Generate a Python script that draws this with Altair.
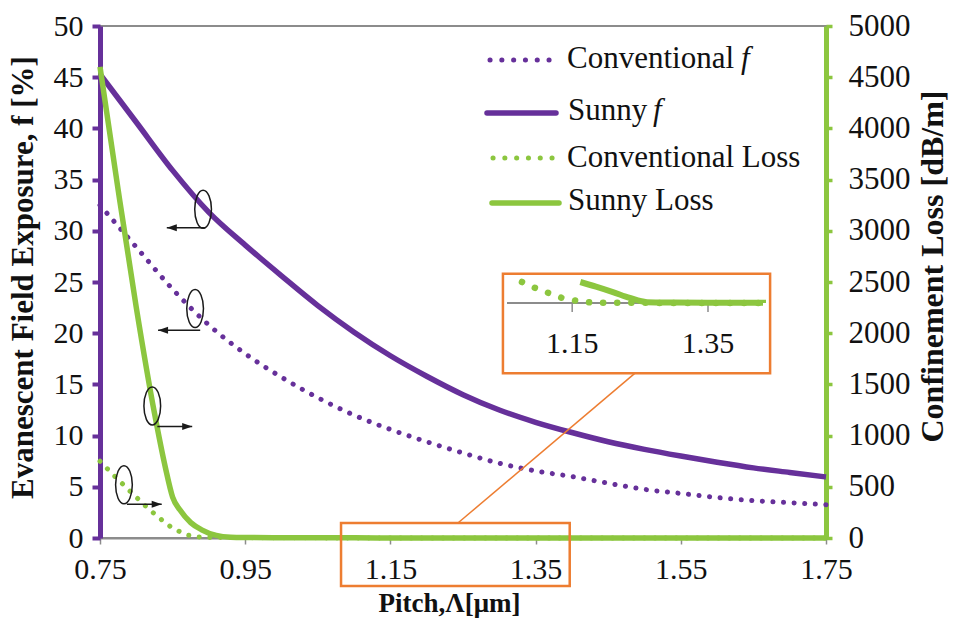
import altair as alt
import pandas as pd

# ---------------- data ----------------
f_pitch = [0.75, 0.80, 0.85, 0.90, 0.95, 1.00, 1.05, 1.10, 1.15, 1.20, 1.25,
           1.30, 1.35, 1.40, 1.45, 1.50, 1.55, 1.60, 1.65, 1.70, 1.75]
sunny_f = [45.3, 40.6, 35.9, 31.8, 28.6, 25.6, 22.7, 20.1, 17.8, 15.8, 14.0,
           12.5, 11.3, 10.3, 9.4, 8.65, 8.0, 7.4, 6.85, 6.4, 5.96]
conv_f = [32.5, 28.4, 24.3, 20.8, 18.0, 15.7, 13.7, 12.0, 10.6, 9.4, 8.3,
          7.3, 6.55, 6.0, 5.35, 4.75, 4.35, 3.95, 3.65, 3.45, 3.25]

sunny_loss_pitch = [0.75, 0.775, 0.80, 0.825, 0.84, 0.85, 0.86, 0.875, 0.89, 0.91,
                    0.93, 0.95, 1.00, 1.05, 1.10, 1.162, 1.185, 1.21, 1.235, 1.26,
                    1.30, 1.35, 1.40, 1.45, 1.50, 1.55, 1.60, 1.65, 1.70, 1.75]
sunny_loss = [4600, 3400, 2250, 1220, 690, 400, 275, 150, 80, 25,
              7, 4.5, 2.8, 2.0, 1.4, 1.0, 0.78, 0.52, 0.24, 0.04,
              0.02, 0.01, 0.01, 0.01, 0.0, 0.0, 0.0, 0.0, 0.0, 0.0]

conv_loss_pitch = [0.75, 0.77, 0.79, 0.81, 0.83, 0.85, 0.87, 0.885, 0.90, 0.95,
                   1.00, 1.04, 1.076, 1.096, 1.115, 1.135, 1.157, 1.179, 1.20, 1.25,
                   1.30, 1.40, 1.50, 1.60, 1.75]
conv_loss = [750, 605, 467, 330, 205, 95, 29, 10, 6, 3.5,
             2.2, 1.5, 1.0, 0.71, 0.48, 0.24, 0.1, 0.02, 0.01, 0.01,
             0.0, 0.0, 0.0, 0.0, 0.0]

x_ticks = [0.75, 0.95, 1.15, 1.35, 1.55, 1.75]
f_ticks = [0, 5, 10, 15, 20, 25, 30, 35, 40, 45, 50]
loss_ticks = [0, 500, 1000, 1500, 2000, 2500, 3000, 3500, 4000, 4500, 5000]
inset_ticks = [1.15, 1.35]

# annotation marks (ellipses + arrows), in data units of the left axis
ell_x = [0.892, 0.881, 0.822, 0.783]
ell_y = [32.1, 22.4, 12.9, 5.2]
arrow_x1 = [0.895, 0.888, 0.829, 0.787]
arrow_x2 = [0.842, 0.830, 0.877, 0.835]
arrow_y = [30.3, 20.3, 10.9, 3.3]
# zoom boxes and the connector
box_x1 = [1.082, 1.305]
box_x2 = [1.397, 1.673]
box_y1 = [-4.69, 16.1]
box_y2 = [1.46, 25.8]
conn_x1, conn_y1, conn_x2, conn_y2 = [1.243], [1.46], [1.487], [16.1]

# ---------------- styling ----------------
PURPLE = "#66309a"
GREEN = "#8cc63f"
ORANGE = "#ed7d31"
GRAY = "#8c8c8c"
TXT = "#111111"
SERIF = "Liberation Serif"
W, H = 726, 512

xs = alt.Scale(domain=[0.75, 1.75], nice=False, zero=False)
fs = alt.Scale(domain=[0, 50], nice=False, zero=False)
ls = alt.Scale(domain=[0, 5000], nice=False, zero=False)
ixs = alt.Scale(domain=[1.054, 1.431], range=[407, 663], clamp=True, nice=False, zero=False)
iys = alt.Scale(domain=[0, 1], range=[277, 256], nice=False, zero=False)

x_axis = alt.Axis(orient="bottom", values=x_ticks, format=".2f", grid=False,
                  labelFont=SERIF, labelFontSize=30, labelColor=TXT, labelPadding=10,
                  labelFlush=False, labelOverlap=False,
                  tickColor=GRAY, tickSize=6, tickWidth=1.5,
                  domainColor=GRAY, domainWidth=2,
                  title="Pitch,Λ[μm]", titleFont=SERIF, titleFontSize=27,
                  titleFontWeight="bold", titleColor=TXT, titleX=349, titleY=73,
                  titleAlign="center", titleBaseline="alphabetic")
f_axis = alt.Axis(orient="left", values=f_ticks, format="d", grid=False,
                  labelFont=SERIF, labelFontSize=30, labelColor=TXT, labelPadding=9,
                  tickColor=PURPLE, tickSize=8, tickWidth=4,
                  domainColor=PURPLE, domainWidth=5,
                  title="Evanescent Field Exposure, f [%]", titleFont=SERIF,
                  titleFontSize=31, titleFontWeight="bold", titleColor=TXT,
                  titleAngle=270, titleX=-77, titleY=251,
                  titleAlign="center", titleBaseline="middle")
loss_axis = alt.Axis(orient="right", values=loss_ticks, format="d", grid=False,
                     labelFont=SERIF, labelFontSize=31, labelColor=TXT, labelPadding=16,
                     tickColor=GREEN, tickSize=6, tickWidth=3.5,
                     domainColor=GREEN, domainWidth=5,
                     title="Confinement Loss [dB/m]", titleFont=SERIF,
                     titleFontSize=32, titleFontWeight="bold", titleColor=TXT,
                     titleAngle=270, titleX=106, titleY=240,
                     titleAlign="center", titleBaseline="middle")

DOT = dict(strokeDash=[0.1, 10.5], strokeCap="round")

df_f = pd.DataFrame({"pitch": f_pitch, "sunny": sunny_f, "conv": conv_f})
df_sl = pd.DataFrame({"pitch": sunny_loss_pitch, "loss": sunny_loss})
df_cl = pd.DataFrame({"pitch": conv_loss_pitch, "loss": conv_loss})
one = pd.DataFrame({"k": [0]})

def X(field, axis=None, scale=xs):
    return alt.X(field, type="quantitative", scale=scale, axis=axis)

def Y(field, scale, axis=None):
    return alt.Y(field, type="quantitative", scale=scale, axis=axis)

conv_f_line = alt.Chart(df_f).mark_line(color=PURPLE, strokeWidth=5, interpolate="monotone", **DOT).encode(
    x=X("pitch", x_axis), y=Y("conv", fs, f_axis))
sunny_f_line = alt.Chart(df_f).mark_line(color=PURPLE, strokeWidth=5.5, interpolate="monotone").encode(
    x=X("pitch"), y=Y("sunny", fs))
conv_loss_line = alt.Chart(df_cl).mark_line(color=GREEN, strokeWidth=5, **DOT).encode(
    x=X("pitch"), y=Y("loss", ls, loss_axis))
sunny_loss_line = alt.Chart(df_sl).mark_line(color=GREEN, strokeWidth=5.5, interpolate="monotone").encode(
    x=X("pitch"), y=Y("loss", ls))

# zoom boxes + connector
df_box = pd.DataFrame({"x1": box_x1, "x2": box_x2, "y1": box_y1, "y2": box_y2})
boxes = alt.Chart(df_box).mark_rect(fillOpacity=0, stroke=ORANGE, strokeWidth=2.5).encode(
    x=X("x1"), x2="x2", y=Y("y1", fs), y2="y2")
df_conn = pd.DataFrame({"x1": conn_x1, "x2": conn_x2, "y1": conn_y1, "y2": conn_y2})
connector = alt.Chart(df_conn).mark_rule(color=ORANGE, strokeWidth=1.5).encode(
    x=X("x1"), x2="x2", y=Y("y1", fs), y2="y2")

# ellipses and arrows
ELL = ("M0,-1C0.243,-1,0.44,-0.552,0.44,0C0.44,0.552,0.243,1,0,1"
       "C-0.243,1,-0.44,0.552,-0.44,0C-0.44,-0.552,-0.243,-1,0,-1Z")
df_ell = pd.DataFrame({"x": ell_x, "y": ell_y})
ellipses = alt.Chart(df_ell).mark_point(shape=ELL, size=1444, filled=False,
                                        color="#1a1a1a", strokeWidth=1.5, opacity=1).encode(
    x=X("x"), y=Y("y", fs))
df_arr = pd.DataFrame({"x1": arrow_x1, "x2": arrow_x2, "y": arrow_y})
arrows = alt.Chart(df_arr).mark_rule(color="#1a1a1a", strokeWidth=1.5).encode(
    x=X("x1"), x2="x2", y=Y("y", fs))
heads_l = alt.Chart(df_arr).transform_filter("datum.x2 < datum.x1").mark_point(
    shape="M0,0L2,-0.7L2,0.7Z", size=100, filled=True, color="#1a1a1a", opacity=1).encode(
    x=X("x2"), y=Y("y", fs))
heads_r = alt.Chart(df_arr).transform_filter("datum.x2 > datum.x1").mark_point(
    shape="M0,0L-2,-0.7L-2,0.7Z", size=100, filled=True, color="#1a1a1a", opacity=1).encode(
    x=X("x2"), y=Y("y", fs))

# inset (magnified view of the loss curves)
inset_base = alt.Chart(one).mark_rule(color=GRAY, strokeWidth=2).encode(
    x=alt.value(407), x2=alt.value(663), y=alt.value(277))
df_it = pd.DataFrame({"t": inset_ticks})
inset_tick = alt.Chart(df_it).mark_rule(color=GRAY, strokeWidth=1.5).encode(
    x=X("t", scale=ixs), y=alt.value(278), y2=alt.value(286))
inset_lab = alt.Chart(df_it).mark_text(font=SERIF, fontSize=30, color=TXT,
                                       baseline="alphabetic", align="center").encode(
    x=X("t", scale=ixs), y=alt.value(327), text=alt.Text("t:Q", format=".2f"))
inset_conv = alt.Chart(df_cl).transform_filter("datum.loss <= 1.0").mark_line(
    color=GREEN, strokeWidth=6.5, strokeDash=[0.1, 14], strokeCap="round").encode(
    x=X("pitch", scale=ixs), y=Y("loss", iys))
inset_sunny = alt.Chart(df_sl).transform_filter("datum.loss <= 1.0").mark_line(
    color=GREEN, strokeWidth=6, interpolate="monotone").encode(
    x=X("pitch", scale=ixs), y=Y("loss", iys))

# legend (drawn by hand so that f can be italic)
def leg_line(x1, x2, y, color, dotted):
    kw = dict(strokeDash=[0.1, 11.7], strokeCap="round") if dotted else dict(strokeCap="round")
    return alt.Chart(one).mark_rule(color=color, strokeWidth=5.5 if not dotted else 5, **kw).encode(
        x=alt.value(x1), x2=alt.value(x2), y=alt.value(y))

def leg_text(txt, x, y, italic=False):
    return alt.Chart(one).mark_text(text=txt, font=SERIF, fontSize=31, color=TXT,
                                    align="left", baseline="alphabetic",
                                    fontStyle="italic" if italic else "normal").encode(
        x=alt.value(x), y=alt.value(y))

legend = [
    leg_line(390, 452, 34, PURPLE, True), leg_text("Conventional", 467, 42),
    leg_text("f", 641, 42, True),
    leg_line(387, 456, 87, PURPLE, False), leg_text("Sunny", 468, 94),
    leg_text("f", 553, 94, True),
    leg_line(393, 453, 132, GREEN, True), leg_text("Conventional Loss", 467, 141),
    leg_line(392, 459, 177, GREEN, False), leg_text("Sunny Loss", 468, 184),
]

chart = alt.layer(
    conv_f_line, sunny_f_line, conv_loss_line, sunny_loss_line,
    boxes, connector, ellipses, arrows, heads_l, heads_r,
    inset_base, inset_tick, inset_lab, inset_conv, inset_sunny,
    *legend,
).resolve_scale(x="independent", y="independent").properties(
    width=W, height=H, autosize="none",
    padding={"left": 100, "top": 26, "right": 127, "bottom": 88},
    background="white",
).configure_view(stroke=GRAY, strokeWidth=2)

chart.save("out.html", embed_options={"renderer": "svg", "actions": False})
